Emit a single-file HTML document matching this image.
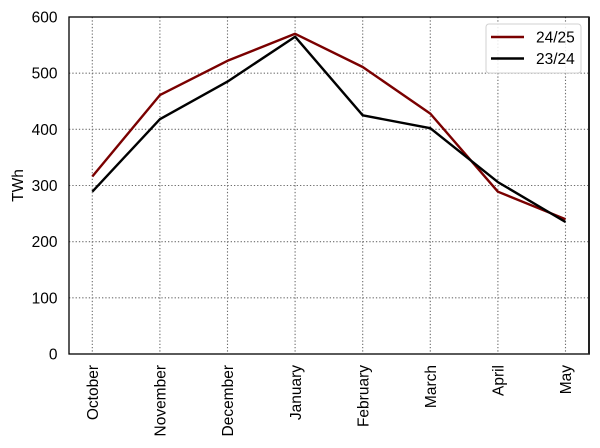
<!DOCTYPE html>
<html><head><meta charset="utf-8"><style>
html,body{margin:0;padding:0;background:#fff;}
svg{display:block;font-family:"Liberation Sans",Arial,sans-serif;}
</style></head><body>
<svg width="600" height="448" viewBox="0 0 600 448" xmlns="http://www.w3.org/2000/svg">
<rect width="600" height="448" fill="#fff"/>
<g stroke="#6e6e6e" stroke-width="1.1" stroke-dasharray="1.3,2" fill="none">
<line x1="69" y1="73.2" x2="589" y2="73.2"/>
<line x1="69" y1="129.3" x2="589" y2="129.3"/>
<line x1="69" y1="185.5" x2="589" y2="185.5"/>
<line x1="69" y1="241.7" x2="589" y2="241.7"/>
<line x1="69" y1="297.8" x2="589" y2="297.8"/>
<line x1="92.3" y1="17" x2="92.3" y2="354"/>
<line x1="159.9" y1="17" x2="159.9" y2="354"/>
<line x1="227.5" y1="17" x2="227.5" y2="354"/>
<line x1="295.1" y1="17" x2="295.1" y2="354"/>
<line x1="362.7" y1="17" x2="362.7" y2="354"/>
<line x1="430.3" y1="17" x2="430.3" y2="354"/>
<line x1="497.9" y1="17" x2="497.9" y2="354"/>
<line x1="565.5" y1="17" x2="565.5" y2="354"/>
</g>
<polyline fill="none" stroke="#7a0000" stroke-width="2.4" stroke-linejoin="round" points="92.3,176.5 159.9,95.1 227.5,60.8 295.1,33.8 362.7,67 430.3,113.6 497.9,191.7 565.5,219.2"/>
<polyline fill="none" stroke="#000" stroke-width="2.4" stroke-linejoin="round" points="92.3,191.7 159.9,119.2 227.5,81.6 295.1,36.7 362.7,115.3 430.3,128.2 497.9,182.1 565.5,222"/>
<rect x="69" y="17" width="520" height="337" fill="none" stroke="#000" stroke-width="1.3"/>
<line x1="589" y1="17" x2="589" y2="354.6" stroke="#222" stroke-width="2"/>
<g font-size="15.5" fill="#000" text-anchor="end">
<text x="57.5" y="22.5">600</text>
<text x="57.5" y="78.7">500</text>
<text x="57.5" y="134.8">400</text>
<text x="57.5" y="191">300</text>
<text x="57.5" y="247.2">200</text>
<text x="57.5" y="303.3">100</text>
<text x="57.5" y="359.5">0</text>
</g>
<g font-size="15.5" fill="#000" text-anchor="end">
<text transform="translate(98,365) rotate(-90)">October</text>
<text transform="translate(165.6,365) rotate(-90)">November</text>
<text transform="translate(233.2,365) rotate(-90)">December</text>
<text transform="translate(300.8,365) rotate(-90)">January</text>
<text transform="translate(368.4,365) rotate(-90)">February</text>
<text transform="translate(436,365) rotate(-90)">March</text>
<text transform="translate(503.6,365) rotate(-90)">April</text>
<text transform="translate(571.2,365) rotate(-90)">May</text>
</g>
<text font-size="15.5" text-anchor="middle" transform="translate(23,185.5) rotate(-90)">TWh</text>
<rect x="486" y="24" width="95" height="49" rx="3" fill="#fff" fill-opacity="0.85" stroke="#d0d0d0" stroke-width="1"/>
<line x1="491" y1="37" x2="524" y2="37" stroke="#7a0000" stroke-width="2.4"/>
<line x1="491" y1="58.5" x2="524" y2="58.5" stroke="#000" stroke-width="2.4"/>
<text x="536" y="42.5" font-size="15.5">24/25</text>
<text x="536" y="64" font-size="15.5">23/24</text>
</svg>
</body></html>
